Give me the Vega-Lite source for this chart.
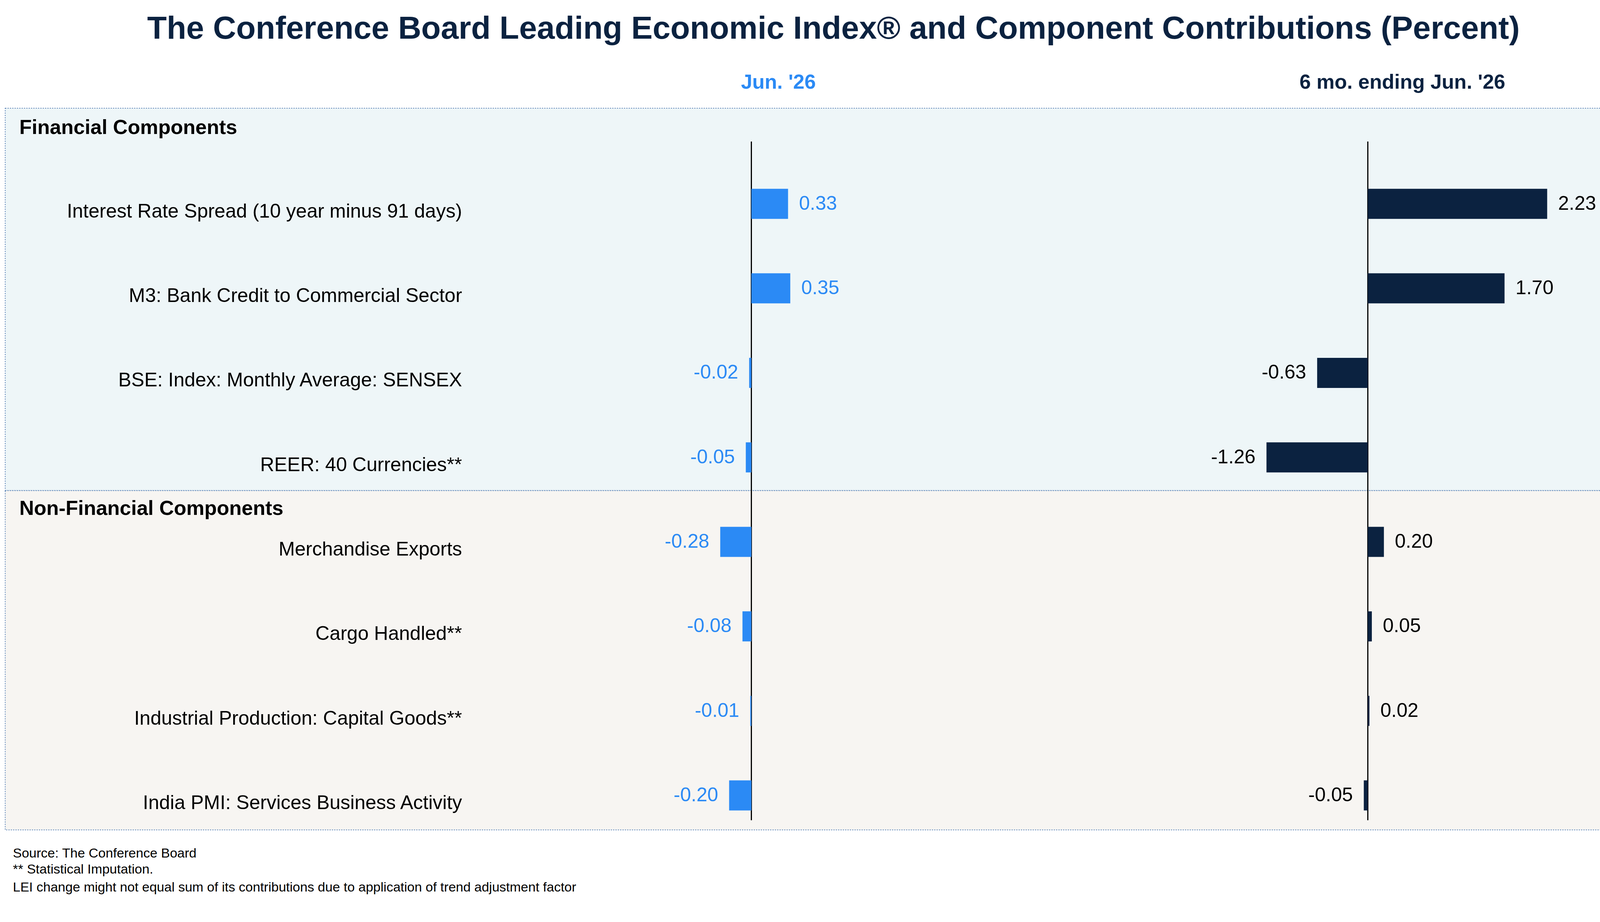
{
"$schema":"https://vega.github.io/schema/vega-lite/v6.json",
"width":4270,"height":2360,"padding":0,
"autosize":{"type":"none"},
"config":{"view":{"stroke":null},"font":"Liberation Sans","text":{"font":"Liberation Sans"}},
"datasets":{
"rows":[
{"row":1,"name":"Interest Rate Spread (10 year minus 91 days)","jun":0.33,"six":2.23},
{"row":2,"name":"M3: Bank Credit to Commercial Sector","jun":0.35,"six":1.70},
{"row":3,"name":"BSE: Index: Monthly Average: SENSEX","jun":-0.02,"six":-0.63},
{"row":4,"name":"REER: 40 Currencies**","jun":-0.05,"six":-1.26},
{"row":5,"name":"Merchandise Exports","jun":-0.28,"six":0.20},
{"row":6,"name":"Cargo Handled**","jun":-0.08,"six":0.05},
{"row":7,"name":"Industrial Production: Capital Goods**","jun":-0.01,"six":0.02},
{"row":8,"name":"India PMI: Services Business Activity","jun":-0.20,"six":-0.05}],
"sections":[
{"name":"Financial Components","top":-0.131,"bottom":4.393,"head":0.098,"fill":"#eef6f8"},
{"name":"Non-Financial Components","top":4.393,"bottom":8.408,"head":4.609,"fill":"#f7f5f2"}],
"notes":[
{"t":"Source: The Conference Board","r":8.69},
{"t":"**  Statistical Imputation.","r":8.88},
{"t":"LEI change might not equal sum of its contributions due to application of trend adjustment factor","r":9.09}]
},
"resolve":{"scale":{"x":"independent"}},
"layer":[
{"data":{"name":"sections"},"mark":{"type":"rect","fillOpacity":1,"stroke":"#5f86b8","strokeDash":[3,3],"strokeWidth":2},
 "encoding":{"x":{"datum":-6.71,"type":"quantitative","scale":{"domain":[-6.757,8.243]},"axis":null},"x2":{"datum":8.214},
 "y":{"field":"top","type":"quantitative","scale":{"domain":[9.475,-1.389],"nice":false,"zero":false},"axis":null},"y2":{"field":"bottom"},
 "fill":{"field":"fill","type":"nominal","scale":null}}},
{"data":{"name":"sections"},"mark":{"type":"text","align":"left","baseline":"middle","fontWeight":"bold","fontSize":52,"color":"#000"},
 "encoding":{"x":{"datum":-6.583,"type":"quantitative","scale":{"domain":[-6.757,8.243]},"axis":null},
 "y":{"field":"head","type":"quantitative"},"text":{"field":"name"}}},
{"data":{"name":"rows"},"mark":{"type":"text","align":"right","baseline":"middle","fontSize":50,"dy":20,"color":"#000"},
 "encoding":{"x":{"datum":-2.602,"type":"quantitative","scale":{"domain":[-6.757,8.243]},"axis":null},
 "y":{"field":"row","type":"quantitative"},"text":{"field":"name"}}},
{"data":{"values":[{"a":0.263,"b":8.294}]},"mark":{"type":"rule","color":"#000","strokeWidth":3},
 "encoding":{"x":{"datum":0,"type":"quantitative","scale":{"domain":[-6.757,8.243]},"axis":null},"y":{"field":"a","type":"quantitative"},"y2":{"field":"b"}}},
{"data":{"values":[{"a":0.263,"b":8.294}]},"mark":{"type":"rule","color":"#000","strokeWidth":3},
 "encoding":{"x":{"datum":0,"type":"quantitative","scale":{"domain":[-17.007,3.732]},"axis":null},"y":{"field":"a","type":"quantitative"},"y2":{"field":"b"}}},
{"data":{"name":"rows"},"mark":{"type":"bar","orient":"horizontal","size":77,"color":"#2b8af5"},
 "encoding":{"x":{"field":"jun","type":"quantitative","scale":{"domain":[-6.757,8.243]},"axis":null},"x2":{"datum":0},
 "y":{"field":"row","type":"quantitative"}}},
{"data":{"name":"rows"},"mark":{"type":"bar","orient":"horizontal","size":77,"color":"#0b2240"},
 "encoding":{"x":{"field":"six","type":"quantitative","scale":{"domain":[-17.007,3.732]},"axis":null},"x2":{"datum":0},
 "y":{"field":"row","type":"quantitative"}}},
{"data":{"name":"rows"},"transform":[{"filter":"datum.jun>=0"}],"mark":{"type":"text","align":"left","baseline":"middle","fontSize":50,"dx":28,"color":"#2b8af5","text":{"expr":"replace(format(datum.jun,'.2f'),'\u2212','-')"}},
 "encoding":{"x":{"field":"jun","type":"quantitative","scale":{"domain":[-6.757,8.243]},"axis":null},"y":{"field":"row","type":"quantitative"}}},
{"data":{"name":"rows"},"transform":[{"filter":"datum.jun<0"}],"mark":{"type":"text","align":"right","baseline":"middle","fontSize":50,"dx":-28,"color":"#2b8af5","text":{"expr":"replace(format(datum.jun,'.2f'),'\u2212','-')"}},
 "encoding":{"x":{"field":"jun","type":"quantitative","scale":{"domain":[-6.757,8.243]},"axis":null},"y":{"field":"row","type":"quantitative"}}},
{"data":{"name":"rows"},"transform":[{"filter":"datum.six>=0"}],"mark":{"type":"text","align":"left","baseline":"middle","fontSize":50,"dx":28,"color":"#000","text":{"expr":"replace(format(datum.six,'.2f'),'\u2212','-')"}},
 "encoding":{"x":{"field":"six","type":"quantitative","scale":{"domain":[-17.007,3.732]},"axis":null},"y":{"field":"row","type":"quantitative"}}},
{"data":{"name":"rows"},"transform":[{"filter":"datum.six<0"}],"mark":{"type":"text","align":"right","baseline":"middle","fontSize":50,"dx":-28,"color":"#000","text":{"expr":"replace(format(datum.six,'.2f'),'\u2212','-')"}},
 "encoding":{"x":{"field":"six","type":"quantitative","scale":{"domain":[-17.007,3.732]},"axis":null},"y":{"field":"row","type":"quantitative"}}},
{"data":{"values":[{"t":"The Conference Board Leading Economic Index® and Component Contributions (Percent)"}]},"mark":{"type":"text","align":"center","baseline":"middle","fontSize":82,"fontWeight":"bold","color":"#0b2240"},
 "encoding":{"x":{"datum":0.738,"type":"quantitative","scale":{"domain":[-6.757,8.243]},"axis":null},"y":{"datum":-1.07,"type":"quantitative"},"text":{"field":"t"}}},
{"data":{"values":[{"t":"Jun. '26"}]},"mark":{"type":"text","align":"center","baseline":"middle","fontSize":52,"fontWeight":"bold","color":"#2b8af5"},
 "encoding":{"x":{"datum":0.243,"type":"quantitative","scale":{"domain":[-6.757,8.243]},"axis":null},"y":{"datum":-0.436,"type":"quantitative"},"text":{"field":"t"}}},
{"data":{"values":[{"t":"6 mo. ending Jun. '26"}]},"mark":{"type":"text","align":"center","baseline":"middle","fontSize":52,"fontWeight":"bold","color":"#0b2240"},
 "encoding":{"x":{"datum":0.43,"type":"quantitative","scale":{"domain":[-17.007,3.732]},"axis":null},"y":{"datum":-0.436,"type":"quantitative"},"text":{"field":"t"}}},
{"data":{"name":"notes"},"mark":{"type":"text","align":"left","baseline":"middle","fontSize":34,"color":"#000"},
 "encoding":{"x":{"datum":-6.641,"type":"quantitative","scale":{"domain":[-6.757,8.243]},"axis":null},"y":{"field":"r","type":"quantitative"},"text":{"field":"t"}}}
]
}
